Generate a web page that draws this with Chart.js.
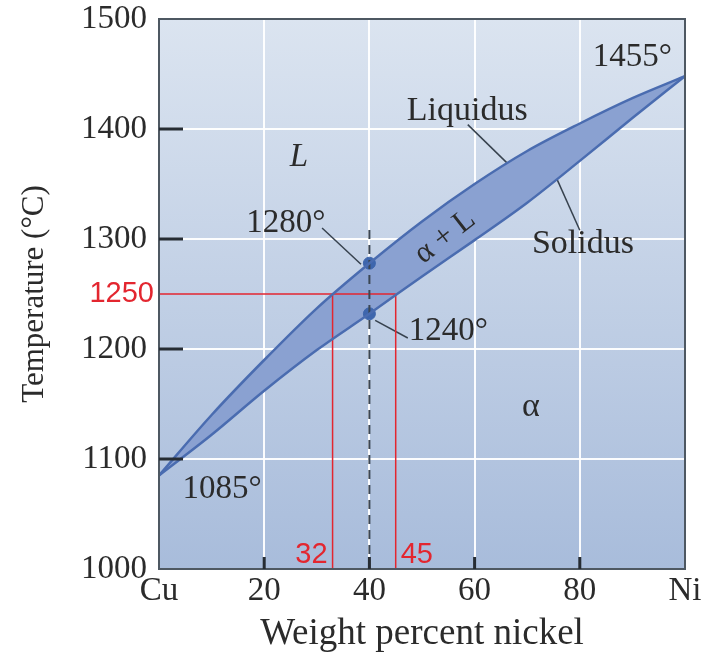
<!DOCTYPE html>
<html>
<head>
<meta charset="utf-8">
<script src="https://cdn.jsdelivr.net/npm/chart.js@4.4.1/dist/chart.umd.min.js"></script>
<style>
  body { margin: 0; background: #fff; }
  #wrap { width: 707px; height: 653px; }
</style>
</head>
<body>
<div id="wrap"><canvas id="phase"></canvas></div>
<script>
// Cu-Ni phase diagram
const nickel = [0, 10, 20, 30, 40, 50, 60, 70, 80, 90, 100];
const liquidus = [1085, 1140, 1190, 1237, 1278, 1316, 1350, 1380, 1405, 1428, 1448];
const solidus = [1085, 1122, 1162, 1199, 1232, 1266, 1299, 1333, 1371, 1410, 1448];

const xTicks = [0, 20, 40, 60, 80, 100];
const xTickLabels = ["Cu", "20", "40", "60", "80", "Ni"];

// alloy of 40 wt% Ni and the 1250 tie line
const alloy = 40;
const alloyTemps = [1278, 1232];
const alloyLineTop = 1312;
const tieTemp = 1250;
const tieComps = [33, 45];
const tieLabels = ["32", "45"];

// text notes [label, x, y, size]
const notes = [
  ["1455°", 90, 1465, 33],
  ["Liquidus", 58.6, 1416, 34],
  ["Solidus", 80.6, 1295, 34],
  ["1280°", 24.1, 1314, 33],
  ["1240°", 55, 1216, 33],
  ["1085°", 12, 1072, 33],
];
// leader lines [[x0, y0], [x1, y1]]
const leaders = [
  [[31, 1310], [38.4, 1277]],
  [[41.1, 1226], [47.3, 1210]],
  [[58.7, 1404], [66.2, 1369]],
  [[75.7, 1354], [80, 1308]],
];

const serif = '"Liberation Serif", "Times New Roman", serif';
const ink = "#2b2b2b";
const red = "#e3262f";

function pts(xs, ys) {
  return xs.map((x, i) => ({ x: x, y: ys[i] }));
}

const datasets = [
  {
    data: pts(nickel, liquidus),
    borderColor: "#4a6cb0",
    borderWidth: 2.5,
    backgroundColor: "#8aa1d1",
    fill: "+1",
    pointRadius: 0,
    cubicInterpolationMode: "monotone",
  },
  {
    data: pts(nickel, solidus),
    borderColor: "#4a6cb0",
    borderWidth: 2.5,
    fill: false,
    pointRadius: 0,
    cubicInterpolationMode: "monotone",
  },
  {
    data: [{ x: alloy, y: 1000 }, { x: alloy, y: alloyLineTop }],
    borderColor: "#3b4653",
    borderWidth: 2,
    borderDash: [9, 6],
    pointRadius: 0,
  },
  {
    data: [{ x: 0, y: tieTemp }, { x: tieComps[1], y: tieTemp }],
    borderColor: red,
    borderWidth: 1.5,
    pointRadius: 0,
  },
];

tieComps.forEach((c) => {
  datasets.push({
    data: [{ x: c, y: 1000 }, { x: c, y: tieTemp }],
    borderColor: red,
    borderWidth: 1.5,
    pointRadius: 0,
  });
});

leaders.forEach((l) => {
  datasets.push({
    data: [{ x: l[0][0], y: l[0][1] }, { x: l[1][0], y: l[1][1] }],
    borderColor: "#37424e",
    borderWidth: 1.5,
    pointRadius: 0,
  });
});

datasets.push({
  data: alloyTemps.map((t) => ({ x: alloy, y: t })),
  showLine: false,
  pointRadius: 6,
  pointBackgroundColor: "#3e66ad",
  pointBorderColor: "#3e66ad",
});

const decor = {
  id: "decor",
  beforeDraw(chart) {
    const { ctx, chartArea: a } = chart;
    const g = ctx.createLinearGradient(0, a.top, 0, a.bottom);
    g.addColorStop(0, "#dbe4f0");
    g.addColorStop(1, "#a8bcdb");
    ctx.save();
    ctx.fillStyle = g;
    ctx.fillRect(a.left, a.top, a.width, a.height);
    ctx.restore();
  },
  afterDatasetsDraw(chart) {
    const { ctx } = chart;
    const xs = chart.scales.x;
    const ys = chart.scales.y;
    ctx.save();
    ctx.fillStyle = ink;
    ctx.textAlign = "center";
    ctx.textBaseline = "middle";
    notes.forEach((n) => {
      ctx.font = n[3] + "px " + serif;
      ctx.fillText(n[0], xs.getPixelForValue(n[1]), ys.getPixelForValue(n[2]));
    });

    ctx.font = "italic 33px " + serif;
    ctx.fillText("L", xs.getPixelForValue(26.6), ys.getPixelForValue(1374));
    ctx.font = "34px " + serif;
    ctx.fillText("α", xs.getPixelForValue(70.7), ys.getPixelForValue(1147));

    ctx.translate(xs.getPixelForValue(54.4), ys.getPixelForValue(1302));
    ctx.rotate(-38 * Math.PI / 180);
    ctx.font = "31px " + serif;
    ctx.fillText("α + L", 0, 0);
    ctx.restore();
  },
  afterDraw(chart) {
    const { ctx, chartArea: a } = chart;
    const xs = chart.scales.x;
    const ys = chart.scales.y;
    ctx.save();
    // frame
    ctx.strokeStyle = "#4e5862";
    ctx.lineWidth = 2;
    ctx.strokeRect(a.left, a.top, a.width, a.height);

    // inward tick marks
    ctx.strokeStyle = "#262c33";
    ctx.lineWidth = 3;
    [1100, 1200, 1300, 1400].forEach((v) => {
      const y = ys.getPixelForValue(v);
      ctx.beginPath();
      ctx.moveTo(a.left, y);
      ctx.lineTo(a.left + 24, y);
      ctx.stroke();
    });
    [20, 40, 60, 80].forEach((v) => {
      const x = xs.getPixelForValue(v);
      ctx.beginPath();
      ctx.moveTo(x, a.bottom);
      ctx.lineTo(x, a.bottom - 12);
      ctx.stroke();
    });

    // red tie line labels
    ctx.fillStyle = red;
    ctx.font = '29px "Liberation Sans", Arial, sans-serif';
    ctx.textAlign = "right";
    ctx.textBaseline = "middle";
    ctx.fillText(String(tieTemp), a.left - 5, ys.getPixelForValue(tieTemp));
    ctx.textBaseline = "bottom";
    ctx.fillText(tieLabels[0], xs.getPixelForValue(tieComps[0]) - 5, a.bottom);
    ctx.textAlign = "left";
    ctx.fillText(tieLabels[1], xs.getPixelForValue(tieComps[1]) + 5, a.bottom);
    ctx.restore();
  },
};

const edgeGrid = (ctx) =>
  ctx.index === 0 || ctx.index === ctx.chart.scales[ctx.scale.id].ticks.length - 1
    ? "rgba(0,0,0,0)"
    : "rgba(255,255,255,0.95)";

new Chart(document.getElementById("phase"), {
  type: "line",
  data: { datasets: datasets },
  options: {
    responsive: true,
    maintainAspectRatio: false,
    animation: false,
    layout: { padding: { top: 19, right: 22, left: 0, bottom: 0 } },
    plugins: {
      legend: { display: false },
      tooltip: { enabled: false },
      filler: { drawTime: "beforeDatasetsDraw" },
    },
    scales: {
      x: {
        type: "linear",
        min: 0,
        max: 100,
        afterBuildTicks: (s) => {
          s.ticks = xTicks.map((v) => ({ value: v }));
        },
        afterFit: (s) => {
          s.height = 84;
          s.paddingLeft = 0;
          s.paddingRight = 0;
        },
        ticks: {
          callback: (v) => xTickLabels[xTicks.indexOf(v)],
          font: { family: serif, size: 33, lineHeight: 1 },
          color: ink,
          padding: 6,
          maxRotation: 0,
          autoSkip: false,
        },
        grid: { color: edgeGrid, lineWidth: 2, drawTicks: false },
        border: { display: false },
        title: {
          display: true,
          text: "Weight percent nickel",
          font: { family: serif, size: 37, lineHeight: 1 },
          color: ink,
          padding: { top: 0, bottom: 0 },
        },
      },
      y: {
        min: 1000,
        max: 1500,
        afterFit: (s) => {
          s.width = 159;
          s.paddingTop = 0;
          s.paddingBottom = 0;
        },
        ticks: {
          stepSize: 100,
          callback: (v) => String(v),
          font: { family: serif, size: 33, lineHeight: 1 },
          color: ink,
          padding: 12,
        },
        grid: { color: edgeGrid, lineWidth: 2, drawTicks: false },
        border: { display: false },
        title: {
          display: true,
          text: "Temperature (°C)",
          font: { family: serif, size: 31, lineHeight: 1 },
          color: ink,
          padding: { top: 19, bottom: 0 },
        },
      },
    },
  },
  plugins: [decor],
});
</script>
</body>
</html>
